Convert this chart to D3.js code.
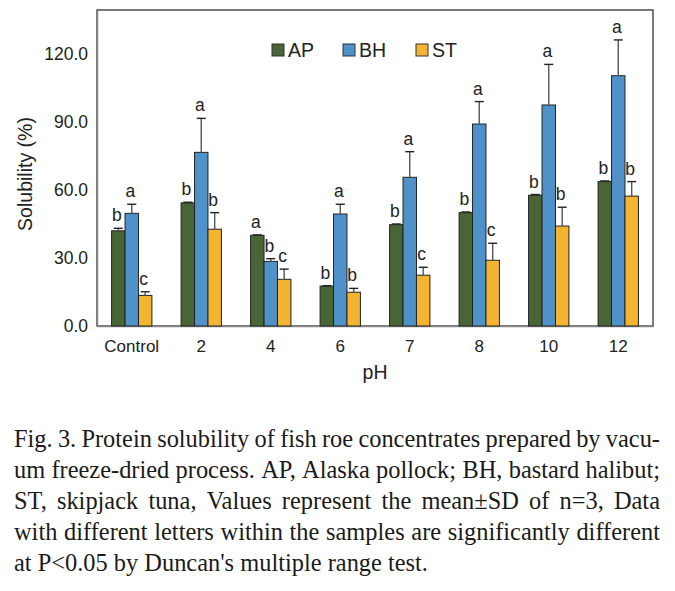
<!DOCTYPE html>
<html><head><meta charset="utf-8">
<script src="https://cdn.jsdelivr.net/npm/d3@7/dist/d3.min.js"></script>
<style>html,body{margin:0;padding:0;background:#fff;}svg{display:block;}</style>
</head><body>
<svg id="chart" width="675" height="591"></svg>
<script>
const categories = ["Control","2","4","6","7","8","10","12"];
const seriesNames = ["AP","BH","ST"];
const apMean = [42.0, 54.3, 40.0, 17.6, 44.7, 50.0, 57.7, 63.7];
const apSD   = [1.1, 0.3, 0.2, 0.2, 0.3, 0.3, 0.3, 0.3];
const bhMean = [49.7, 76.6, 28.5, 49.4, 65.6, 89.1, 97.5, 110.4];
const bhSD   = [4.0, 15.0, 1.2, 4.3, 11.3, 9.9, 17.9, 15.8];
const stMean = [13.5, 42.7, 20.6, 14.9, 22.4, 29.0, 44.1, 57.3];
const stSD   = [1.6, 7.3, 4.5, 1.7, 3.5, 7.5, 8.3, 6.4];
const apLetters = ["b","b","a","b","b","b","b","b"];
const bhLetters = ["a","a","b","a","a","a","a","a"];
const stLetters = ["c","b","c","b","c","c","b","b"];
const yTicks = [0, 30, 60, 90, 120];
const captionLines = [
  "Fig. 3. Protein solubility of fish roe concentrates prepared by vacu-",
  "um freeze-dried process. AP, Alaska pollock; BH, bastard halibut;",
  "ST, skipjack tuna, Values represent the mean\u00b1SD of n=3, Data",
  "with different letters within the samples are significantly different",
  "at P<0.05 by Duncan's multiple range test."
];

const colors = {AP:"#4a6535", BH:"#4f91c9", ST:"#f3b431"};
const series = [
  {name:"AP", mean:apMean, sd:apSD, letters:apLetters},
  {name:"BH", mean:bhMean, sd:bhSD, letters:bhLetters},
  {name:"ST", mean:stMean, sd:stSD, letters:stLetters}
];

const svg = d3.select("#chart");
const L = 97, R = 653, T = 10, B = 326;
const sans = "'Liberation Sans', Arial, sans-serif";

const x = d3.scaleBand().domain(categories).range([L, R]).paddingInner(0.42).paddingOuter(0.21);
const xs = d3.scaleBand().domain(seriesNames).range([0, x.bandwidth()]);
const y = d3.scaleLinear().domain([0, 139.4]).range([B, T]);

// frame
svg.append("rect").attr("x", L).attr("y", T).attr("width", R - L).attr("height", B - T)
  .attr("fill", "none").attr("stroke", "#333").attr("stroke-width", 1.3);

// y axis
const yAxis = svg.append("g").attr("transform", `translate(${L},0)`)
  .call(d3.axisLeft(y).tickValues(yTicks).tickSize(0).tickPadding(9).tickFormat(d3.format(".1f")));
yAxis.select(".domain").attr("stroke", "#888").attr("stroke-width", 1.5);
yAxis.selectAll("text").attr("font-family", sans).attr("font-size", 17.5).attr("fill", "#222");

// x axis
const xAxis = svg.append("g").attr("transform", `translate(0,${B})`)
  .call(d3.axisBottom(x).tickSize(0).tickPadding(14));
xAxis.select(".domain").attr("stroke", "#888").attr("stroke-width", 1.5);
xAxis.selectAll("text").attr("font-family", sans).attr("font-size", 17).attr("fill", "#222");

// bars
series.forEach(s => {
  const g = svg.append("g");
  categories.forEach((c, i) => {
    const bx = x(c) + xs(s.name);
    const bw = xs.bandwidth();
    g.append("rect").attr("x", bx).attr("y", y(s.mean[i])).attr("width", bw)
      .attr("height", y(0) - y(s.mean[i])).attr("fill", colors[s.name])
      .attr("stroke", "#222").attr("stroke-width", 1);
    const cx = bx + bw / 2;
    const top = y(s.mean[i] + s.sd[i]);
    g.append("line").attr("x1", cx).attr("x2", cx).attr("y1", y(s.mean[i])).attr("y2", top)
      .attr("stroke", "#555").attr("stroke-width", 1.4);
    g.append("line").attr("x1", cx - 4.5).attr("x2", cx + 4.5).attr("y1", top).attr("y2", top)
      .attr("stroke", "#222").attr("stroke-width", 1.4);
    g.append("text").attr("x", cx - 1.5).attr("y", top - 7).attr("text-anchor", "middle")
      .attr("font-family", sans).attr("font-size", 17.5).attr("fill", "#222").text(s.letters[i]);
  });
});

// legend
const legX = [272, 343, 416];
series.forEach((s, k) => {
  svg.append("rect").attr("x", legX[k]).attr("y", 44).attr("width", 12).attr("height", 12)
    .attr("fill", colors[s.name]).attr("stroke", "#333").attr("stroke-width", 1);
  svg.append("text").attr("x", legX[k] + 16).attr("y", 57).attr("font-family", sans)
    .attr("font-size", 19.5).attr("fill", "#222").text(s.name);
});

// axis titles
svg.append("text").attr("transform", "translate(32,174) rotate(-90)").attr("text-anchor", "middle")
  .attr("font-family", sans).attr("font-size", 19.5).attr("fill", "#222").text("Solubility (%)");
svg.append("text").attr("x", 375).attr("y", 379).attr("text-anchor", "middle")
  .attr("font-family", sans).attr("font-size", 19.5).attr("fill", "#222").text("pH");

// caption (justified, condensed serif)
const serif = "'Liberation Serif', 'Times New Roman', serif";
const capL = 14, capR = 660, lastEnd = 428, base0 = 447, lh = 31, fs = 24.5;
const groups = captionLines.map((line, li) => {
  const g = svg.append("g");
  const words = line.split(" ");
  const els = words.map(w => g.append("text").attr("font-family", serif).attr("font-size", fs)
    .attr("fill", "#1a1a1a").text(w));
  const widths = els.map(e => e.node().getComputedTextLength());
  return {g, words, els, widths};
});
const spaceW = fs * 0.25;
const lastG = groups[groups.length - 1];
const lastNatural = d3.sum(lastG.widths) + spaceW * (lastG.words.length - 1);
const sx = (lastEnd - capL) / lastNatural;
groups.forEach((o, li) => {
  o.g.attr("transform", `translate(${capL},${base0 + li * lh}) scale(${sx},1)`);
  const last = li === groups.length - 1;
  const avail = (capR - capL) / sx;
  const space = last ? spaceW : (avail - d3.sum(o.widths)) / (o.words.length - 1);
  let cx = 0;
  o.els.forEach((e, k) => { e.attr("x", cx); cx += o.widths[k] + space; });
});
</script>
</body></html>
